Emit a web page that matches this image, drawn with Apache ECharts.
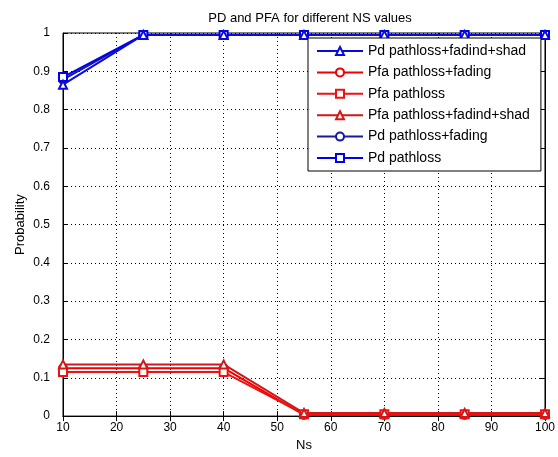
<!DOCTYPE html>
<html><head><meta charset="utf-8">
<script src="https://cdn.jsdelivr.net/npm/echarts@6/dist/echarts.min.js"></script>
<style>html,body{margin:0;padding:0;background:#fff}#c{width:558px;height:457px}</style>
</head><body><div id="c"></div>
<script>
const ns = [10, 25, 40, 55, 70, 85, 100];
const pdShad = [0.865, 0.995, 0.995, 0.995, 0.995, 0.995, 0.995];
const pfaFading = [0.125, 0.125, 0.125, 0.003, 0.003, 0.003, 0.003];
const pfaPath = [0.115, 0.115, 0.115, 0.005, 0.005, 0.005, 0.005];
const pfaShad = [0.135, 0.135, 0.135, 0.008, 0.008, 0.008, 0.008];
const pdFading = [0.878, 0.995, 0.995, 0.995, 0.995, 0.995, 0.995];
const pdPath = [0.885, 0.995, 0.995, 0.995, 0.995, 0.995, 0.995];
const yTicks = ['0','0.1','0.2','0.3','0.4','0.5','0.6','0.7','0.8','0.9','1'];

const pairs = a => ns.map((x, i) => [x, a[i]]);
const font = 'Arial, "Liberation Sans", sans-serif';
function s(name, data, color, symbol) {
  return {name, type: 'line', data: pairs(data), symbol, symbolSize: 8,
    lineStyle: {color, width: 2}, itemStyle: {color, borderColor: color, borderWidth: 1.5},
    emphasis: {disabled: true}, animation: false, z: 3};
}
const grid = {left: 63, right: 11, top: 33, bottom: 39, show: true, borderColor: '#000', borderWidth: 1};
const chart = echarts.init(document.getElementById('c'));
chart.setOption({
  animation: false,
  title: {text: 'PD and PFA for different NS values', left: 305, top: 7, textAlign: 'center',
    textStyle: {fontFamily: font, fontSize: 13, fontWeight: 'normal', color: '#000'}},
  grid,
  legend: {orient: 'vertical', left: 308, top: 38, itemWidth: 46, itemHeight: 10, itemGap: 5.4,
    padding: [5, 11, 5, 8], backgroundColor: '#fff', borderColor: '#000', borderWidth: 1, borderRadius: 0,
    textStyle: {fontFamily: font, fontSize: 14, color: '#000', lineHeight: 16},
    data: ['Pd pathloss+fadind+shad','Pfa pathloss+fading','Pfa pathloss','Pfa pathloss+fadind+shad','Pd pathloss+fading','Pd pathloss']},
  xAxis: [{type: 'value', min: 10, max: 100, interval: 10, name: 'Ns', nameLocation: 'middle', nameGap: 22,
    nameTextStyle: {fontFamily: font, fontSize: 13, color: '#000'},
    axisLine: {lineStyle: {color: '#000'}}, axisTick: {inside: true, length: 5, lineStyle: {color: '#000'}},
    axisLabel: {fontFamily: font, fontSize: 12, color: '#000', margin: 6},
    splitLine: {show: true, lineStyle: {color: '#000', type: [1, 3], width: 1}}},
   {type: 'value', position: 'top', min: 10, max: 100, interval: 10,
    axisLine: {lineStyle: {color: '#000'}}, axisTick: {inside: true, length: 5, lineStyle: {color: '#000'}},
    axisLabel: {show: false}, splitLine: {show: false}}],
  yAxis: [{type: 'value', min: 0, max: 1, interval: 0.1, name: 'Probability', nameLocation: 'middle', nameGap: 36,
    nameMoveOverlap: false,
    nameTextStyle: {fontFamily: font, fontSize: 13, color: '#000'},
    axisLine: {show: true, lineStyle: {color: '#000'}}, axisTick: {show: true, inside: true, length: 5, lineStyle: {color: '#000'}},
    axisLabel: {fontFamily: font, fontSize: 12, color: '#000', margin: 13, formatter: (v) => yTicks[Math.round(v * 10)]},
    splitLine: {show: true, lineStyle: {color: '#000', type: [1, 3], width: 1}}},
   {type: 'value', position: 'right', min: 0, max: 1, interval: 0.1,
    axisLine: {show: true, lineStyle: {color: '#000'}}, axisTick: {show: true, inside: true, length: 5, lineStyle: {color: '#000'}},
    axisLabel: {show: false}, splitLine: {show: false}}],
  series: [
    s('Pfa pathloss+fading', pfaFading, '#f00000', 'emptyCircle'),
    s('Pfa pathloss', pfaPath, '#f01010', 'emptyRect'),
    s('Pfa pathloss+fadind+shad', pfaShad, '#d01818', 'emptyTriangle'),
    s('Pd pathloss+fading', pdFading, '#1a1aa0', 'emptyCircle'),
    s('Pd pathloss', pdPath, '#0000f0', 'emptyRect'),
    s('Pd pathloss+fadind+shad', pdShad, '#0a0ae0', 'emptyTriangle')
  ]
});
</script></body></html>
